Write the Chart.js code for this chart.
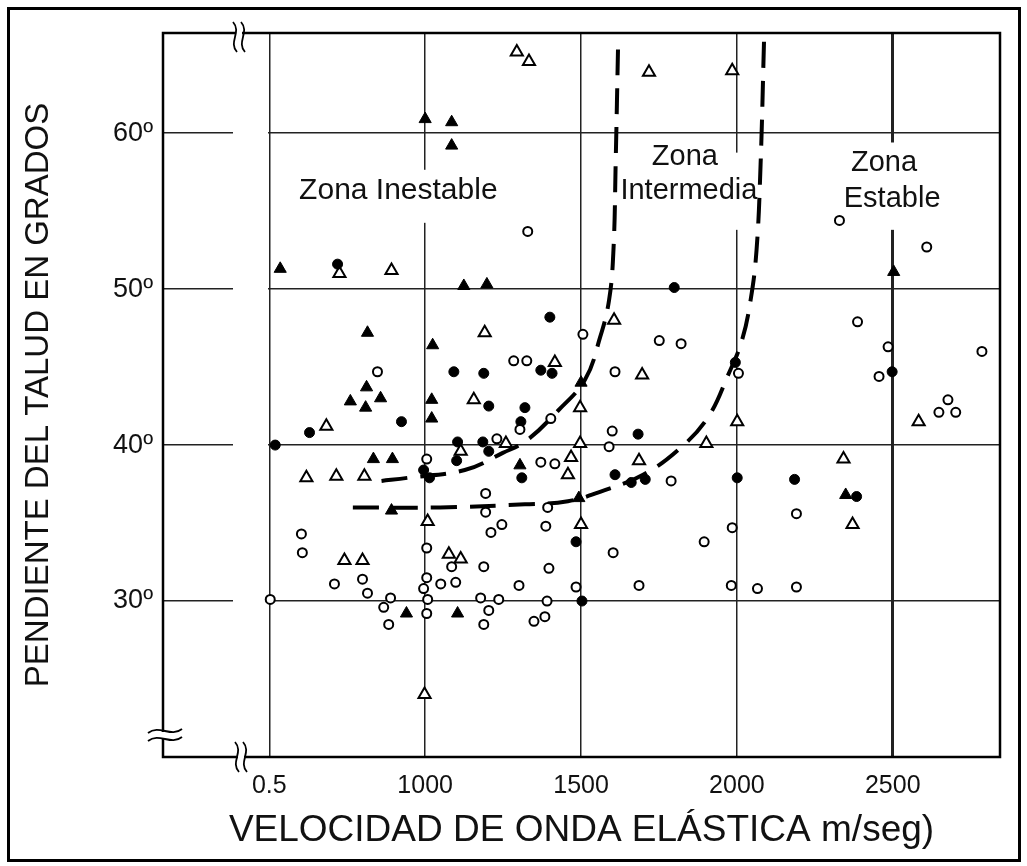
<!DOCTYPE html>
<html lang="es">
<head>
<meta charset="utf-8">
<title>Pendiente del talud vs. velocidad de onda elástica</title>
<script src="https://cdn.jsdelivr.net/npm/chart.js@4.4.1/dist/chart.umd.min.js"></script>
<style>
  html, body { margin: 0; padding: 0; background: #fff; }
  canvas { display: block; }
</style>
</head>
<body>
<canvas id="c" width="1027" height="866"></canvas>
<script>
// ---- axis ticks and titles ----
const xTickValues = [500, 1000, 1500, 2000, 2500];
const xTickLabels = ['0.5', '1000', '1500', '2000', '2500'];
const yTickValues = [30, 40, 50, 60];
const yTickLabels = ['30º', '40º', '50º', '60º'];
const xTitle = 'VELOCIDAD DE ONDA ELÁSTICA m/seg)';
const yTitle = 'PENDIENTE DEL TALUD EN GRADOS';

// ---- zone names ----
const zoneInestable = ['Zona Inestable'];
const zoneIntermedia = ['Zona', 'Intermedia'];
const zoneEstable = ['Zona', 'Estable'];

// ---- observations: [velocity m/s, slope degrees] ----
const openCircles = [
  [1329, 53.7], [847, 44.7], [1506, 47.1], [1284, 45.4], [1326, 45.4], [1609, 44.7],
  [1304, 41.0], [1403, 41.7], [1600, 40.9], [1590, 39.9], [1230, 40.4], [1005, 39.1],
  [1371, 38.9], [1416, 38.8], [1194, 36.9], [1751, 46.7], [1821, 46.5], [2005, 44.6],
  [1789, 37.7], [2329, 54.4], [2609, 52.7], [2387, 47.9], [2485, 46.3], [2786, 46.0],
  [2456, 44.4], [2677, 42.9], [2648, 42.1], [2702, 42.1], [2191, 35.6], [2191, 30.9],
  [1985, 34.7], [1895, 33.8], [1686, 31.0], [1982, 31.0], [2066, 30.8], [1005, 33.4],
  [603, 34.3], [606, 33.1], [709, 31.1], [799, 31.4], [815, 30.5], [503, 30.1],
  [889, 30.2], [867, 29.6], [883, 28.5], [1005, 31.5], [995, 30.8], [1008, 30.1],
  [1005, 29.2], [1050, 31.1], [1194, 35.7], [1246, 34.9], [1211, 34.4], [1393, 36.0],
  [1387, 34.8], [1603, 33.1], [1085, 32.2], [1188, 32.2], [1397, 32.1], [1098, 31.2],
  [1301, 31.0], [1484, 30.9], [1178, 30.2], [1236, 30.1], [1391, 30.0], [1204, 29.4],
  [1188, 28.5], [1349, 28.7], [1384, 29.0]
];
const filledCircles = [
  [719, 51.6], [1400, 48.2], [1799, 50.1], [924, 41.5], [629, 40.8], [519, 40.0],
  [1371, 44.8], [1407, 44.6], [1092, 44.7], [1188, 44.6], [1204, 42.5], [1320, 42.4],
  [1307, 41.5], [1104, 40.2], [1185, 40.2], [1204, 39.6], [1101, 39.0], [995, 38.4],
  [1014, 37.9], [1310, 37.9], [1609, 38.1], [1995, 45.3], [1683, 40.7], [1661, 37.6],
  [1706, 37.8], [2001, 37.9], [2185, 37.8], [2384, 36.7], [2498, 44.7], [1484, 33.8],
  [1503, 30.0]
];
const openTriangles = [
  [1294, 65.2], [1333, 64.6], [725, 51.0], [892, 51.2], [1718, 63.9], [1985, 64.0],
  [683, 41.2], [619, 37.9], [715, 38.0], [805, 38.0], [1191, 47.2], [1606, 48.0],
  [1416, 45.3], [1156, 42.9], [1497, 42.4], [1259, 40.1], [1114, 39.6], [1497, 40.1],
  [1468, 39.2], [1458, 38.1], [1696, 44.5], [2001, 41.5], [1902, 40.1], [1686, 39.0],
  [2583, 41.5], [2342, 39.1], [2371, 34.9], [1008, 35.1], [741, 32.6], [799, 32.6],
  [1500, 34.9], [1076, 33.0], [1114, 32.7], [998, 24.0]
];
const filledTriangles = [
  [1000, 60.9], [1085, 60.7], [1085, 59.2], [535, 51.3], [1124, 50.2], [1198, 50.3],
  [2503, 51.1], [815, 47.2], [812, 43.7], [760, 42.8], [857, 43.0], [809, 42.4],
  [834, 39.1], [895, 39.1], [1024, 46.4], [1500, 44.0], [1021, 42.9], [1021, 41.7],
  [1304, 38.7], [2349, 36.8], [892, 35.8], [940, 29.2], [1104, 29.2], [1493, 36.6]
];

// ---- zone boundaries ----
const boundaryUnstable = [
  [860, 37.7], [944, 37.9], [1127, 38.4], [1249, 39.5], [1326, 40.3], [1426, 42.2],
  [1513, 44.2], [1561, 46.9], [1590, 49.3], [1604, 52.5], [1611, 58.0], [1619, 65.8]
];
const boundaryStable = [
  [768, 36.0], [1048, 36.0], [1320, 36.2], [1458, 36.4], [1561, 37.0], [1699, 38.1],
  [1818, 39.8], [1908, 41.8], [1972, 44.5], [2016, 46.7], [2044, 49.3], [2063, 52.5],
  [2076, 58.0], [2087, 65.9]
];

const FONT = '"Liberation Sans", Arial, Helvetica, sans-serif';
const INK = '#111';

const toPts = arr => arr.map(([x, y]) => ({ x, y }));

function markerSet(label, data, style, radius, filled) {
  return {
    label, data: toPts(data), showLine: false,
    pointStyle: style, pointRadius: radius, pointHoverRadius: radius,
    pointBorderWidth: filled ? 1 : 2,
    pointBorderColor: '#000',
    pointBackgroundColor: filled ? '#000' : '#fff'
  };
}
function boundarySet(label, data) {
  return {
    label, data: toPts(data), showLine: true, fill: false,
    borderColor: '#000', borderWidth: 4, borderDash: [26, 13],
    tension: 0.4, pointRadius: 0, pointHoverRadius: 0
  };
}

// zone label layout: anchor of each line in data units, plus the cleared band behind it
const zoneLayout = [
  { lines: zoneInestable, at: [[914, 56.3]], box: [564, 1265, 57.65, 54.25], size: 30 },
  { lines: zoneIntermedia, at: [[1833, 58.45], [1846, 56.3]], box: [1625, 2074, 58.75, 53.8], size: 29 },
  { lines: zoneEstable, at: [[2472, 58.1], [2498, 55.8]], box: [2299, 2690, 59.4, 53.8], size: 29 }
];

function waveV(ctx, x, yc, h) {
  ctx.beginPath();
  ctx.moveTo(x - 2, yc - h / 2);
  ctx.bezierCurveTo(x + 7, yc - h / 6, x - 7, yc + h / 6, x + 2, yc + h / 2);
  ctx.stroke();
}
function waveH(ctx, xc, y, w) {
  ctx.beginPath();
  ctx.moveTo(xc - w / 2, y + 2);
  ctx.bezierCurveTo(xc - w / 6, y - 7, xc + w / 6, y + 7, xc + w / 2, y - 2);
  ctx.stroke();
}

const decor = {
  id: 'decor',
  beforeDraw(chart) {
    const { ctx, width, height } = chart;
    ctx.save();
    ctx.fillStyle = '#fff';
    ctx.fillRect(0, 0, width, height);
    ctx.restore();
  },
  beforeDatasetsDraw(chart) {
    const { ctx, chartArea: a, scales: { x, y } } = chart;
    ctx.save();
    // cleared band to the right of the axis break
    ctx.fillStyle = '#fff';
    ctx.fillRect(a.left + 70, a.top + 2, 35, a.bottom - a.top - 4);

    // zone labels on white boxes
    ctx.textAlign = 'center';
    ctx.textBaseline = 'middle';
    zoneLayout.forEach(z => {
      const [bx0, bx1, by0, by1] = z.box;
      ctx.fillStyle = '#fff';
      ctx.fillRect(x.getPixelForValue(bx0), y.getPixelForValue(by0),
        x.getPixelForValue(bx1) - x.getPixelForValue(bx0),
        y.getPixelForValue(by1) - y.getPixelForValue(by0));
      ctx.fillStyle = INK;
      ctx.font = z.size + 'px ' + FONT;
      z.lines.forEach((t, i) => {
        ctx.fillText(t, x.getPixelForValue(z.at[i][0]), y.getPixelForValue(z.at[i][1]));
      });
    });

    // plot frame
    ctx.strokeStyle = '#000';
    ctx.lineWidth = 2.5;
    ctx.strokeRect(a.left, a.top, a.right - a.left, a.bottom - a.top);

    // axis break marks
    const bxTop = a.left + 72, bxBot = a.left + 74, byLeft = a.bottom - 22;
    ctx.fillStyle = '#fff';
    ctx.fillRect(bxTop + 1, a.top - 3, 6, 6);
    ctx.fillRect(bxBot + 1, a.bottom - 3, 6, 6);
    ctx.fillRect(a.left - 3, byLeft - 3, 6, 6);
    ctx.lineWidth = 1.8;
    waveV(ctx, bxTop, a.top + 4, 30);
    waveV(ctx, bxTop + 8, a.top + 4, 30);
    waveV(ctx, bxBot, a.bottom, 30);
    waveV(ctx, bxBot + 8, a.bottom, 30);
    waveH(ctx, a.left + 2, byLeft - 4, 34);
    waveH(ctx, a.left + 2, byLeft + 4, 34);
    ctx.restore();
  },
  afterDraw(chart) {
    const { ctx } = chart;
    ctx.save();
    ctx.strokeStyle = '#000';
    ctx.lineWidth = 3;
    ctx.strokeRect(8.5, 8.5, 1011, 852);
    ctx.restore();
  }
};

new Chart(document.getElementById('c'), {
  type: 'scatter',
  data: {
    datasets: [
      markerSet('Círculo abierto', openCircles, 'circle', 4.5, false),
      markerSet('Círculo lleno', filledCircles, 'circle', 5, true),
      markerSet('Triángulo abierto', openTriangles, 'triangle', 7, false),
      markerSet('Triángulo lleno', filledTriangles, 'triangle', 7, true),
      boundarySet('Límite zona inestable', boundaryUnstable),
      boundarySet('Límite zona estable', boundaryStable)
    ]
  },
  options: {
    responsive: false,
    animation: false,
    devicePixelRatio: 1,
    layout: { padding: { left: 0, top: 33, right: 27, bottom: 0 } },
    plugins: { legend: { display: false }, tooltip: { enabled: false } },
    scales: {
      x: {
        type: 'linear', min: 159, max: 2844,
        afterBuildTicks: s => { s.ticks = xTickValues.map(v => ({ value: v })); },
        afterFit: s => { s.height = 109; },
        grid: {
          color: '#222', drawTicks: false,
          lineWidth: c => (c.tick && c.tick.value === 2500 ? 3 : 1.5)
        },
        border: { display: false },
        ticks: {
          autoSkip: false, maxRotation: 0, padding: 14, color: INK,
          font: { family: FONT, size: 25 },
          callback: (v, i) => xTickLabels[i]
        },
        title: {
          display: true, text: xTitle, color: INK,
          font: { family: FONT, size: 37 },
          padding: { top: 0, bottom: 13 }
        }
      },
      y: {
        type: 'linear', min: 20, max: 66.42,
        afterBuildTicks: s => { s.ticks = yTickValues.map(v => ({ value: v })); },
        afterFit: s => { s.width = 163; },
        grid: { color: '#222', lineWidth: 1.5, drawTicks: false },
        border: { display: false },
        ticks: {
          autoSkip: false, padding: 10, color: INK,
          font: { family: FONT, size: 27 },
          callback: (v, i) => yTickLabels[i]
        },
        title: {
          display: true, text: yTitle, color: INK,
          font: { family: FONT, size: 33 },
          padding: { top: 19, bottom: 0 }
        }
      }
    }
  },
  plugins: [decor]
});
</script>
</body>
</html>
